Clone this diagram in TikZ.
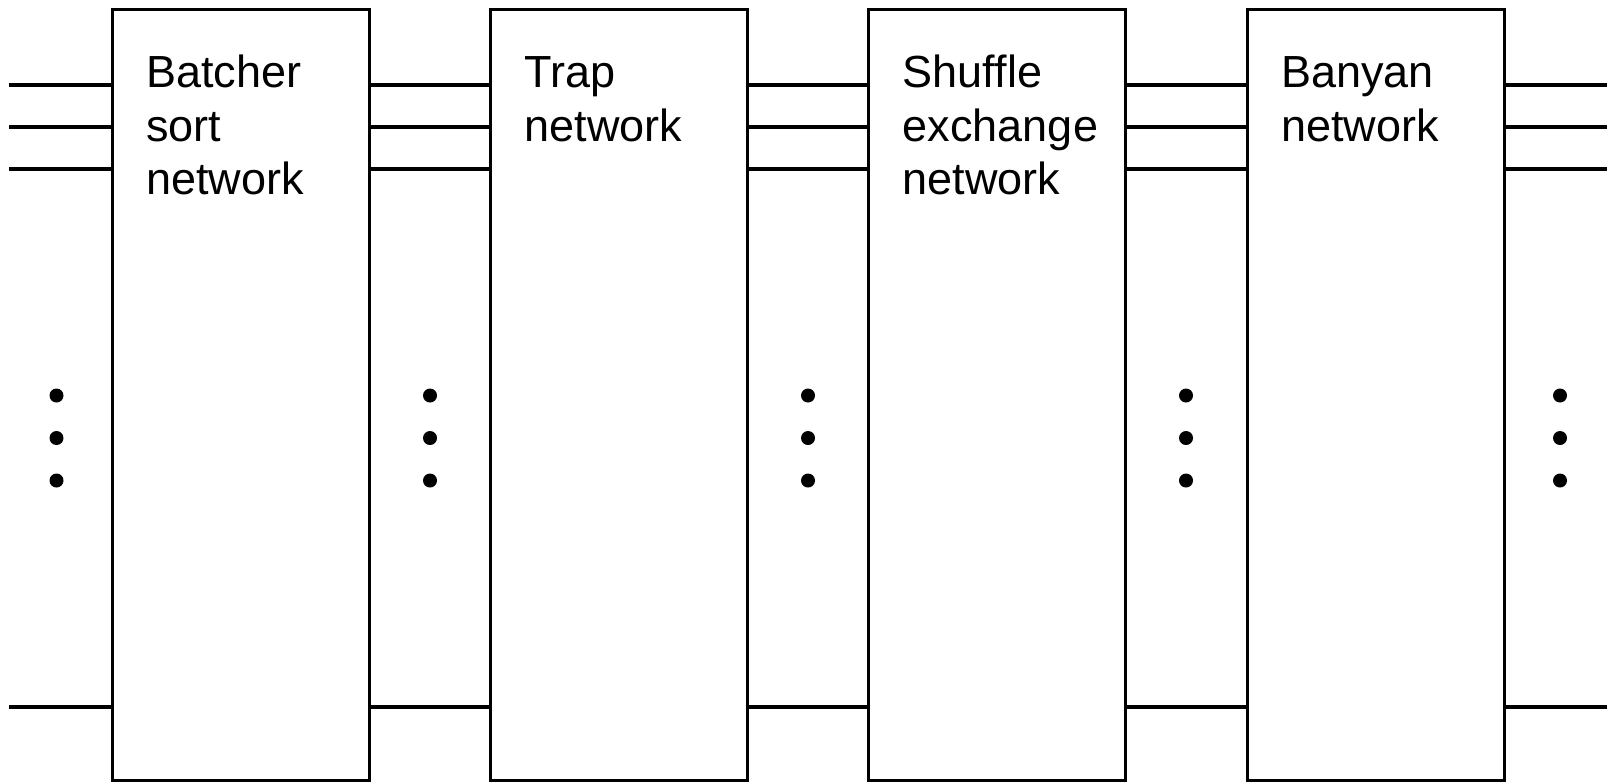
\documentclass[tikz,border=0pt]{standalone}
\usepackage{fontspec}
\setmainfont{Liberation Sans}
\usetikzlibrary{calc}
\begin{document}
\begin{tikzpicture}[x=1pt,y=-1pt,
  stage/.style={draw=black,line width=3pt,fill=white,minimum width=257pt,minimum height=771pt,inner sep=0pt},
  wire/.style={line width=4pt},
  stagetext/.style={anchor=base west,inner sep=0pt},
  dotmark/.style={fill=black}]
\useasboundingbox (0,0) rectangle (1613,782);
\newcommand{\stagelabel}[1]{\parbox[t]{220pt}{\fontsize{45}{53.5}\selectfont\raggedright #1}}

% wire levels
\coordinate (r1) at (0,84.6);
\coordinate (r2) at (0,126.6);
\coordinate (r3) at (0,168.7);
\coordinate (r4) at (0,706.7);
\coordinate (inL) at (9,0);
\coordinate (outR) at (1607,0);

% stages
\node[stage] (b1) at (240.7,394.7) {};
\node[stage] (b2) at (619.2,394.7) {};
\node[stage] (b3) at (997.2,394.7) {};
\node[stage] (b4) at (1375.7,394.7) {};

% stage names
\node[stagetext] (t1) at ($(b1.north west)+(35.5,80)$) {\stagelabel{Batcher\\sort\\network}};
\node[stagetext] (t2) at ($(b2.north west)+(35.5,80)$) {\stagelabel{Trap\\network}};
\node[stagetext] (t3) at ($(b3.north west)+(35.5,80)$) {\stagelabel{Shuffle\\exchange\\network}};
\node[stagetext] (t4) at ($(b4.north west)+(35.5,80)$) {\stagelabel{Banyan\\network}};

% wires
\foreach \r in {r1,r2,r3,r4}{
  \draw[wire] (inL |- \r) -- (b1.west |- \r);
  \draw[wire] (b1.east |- \r) -- (b2.west |- \r);
  \draw[wire] (b2.east |- \r) -- (b3.west |- \r);
  \draw[wire] (b3.east |- \r) -- (b4.west |- \r);
  \draw[wire] (b4.east |- \r) -- (outR |- \r);
}

% ellipsis dots between stages
\foreach \x in {56.5,430,808,1186,1560}{
  \foreach \y in {395.5,438,480.5}{
    \fill[dotmark] (\x,\y) circle (7pt);
  }
}
\end{tikzpicture}
\end{document}
